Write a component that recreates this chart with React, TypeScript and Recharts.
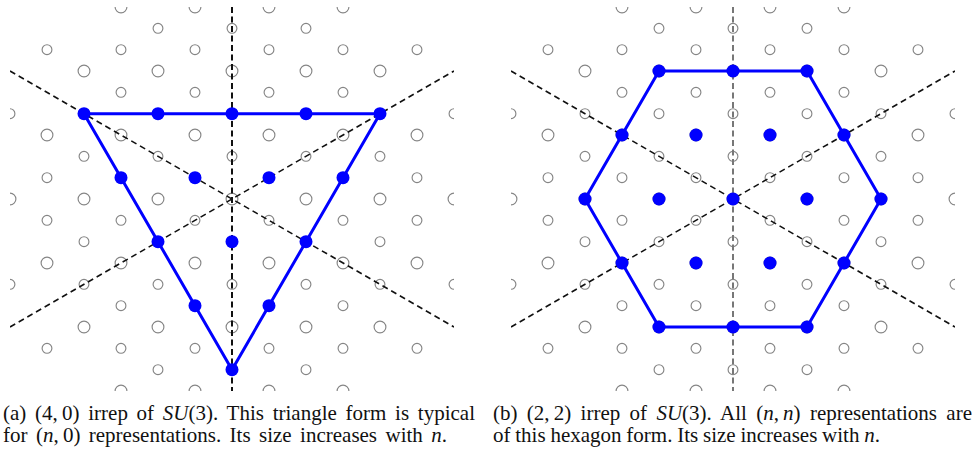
import React, { useLayoutEffect, useRef, useState } from 'react';
import { ScatterChart, Scatter, XAxis, YAxis } from 'recharts';

// weight lattice (hollow circles), one row per level, x in half-root units
const latticeRows = [
  { y: 9, xs: [-3, -1, 1, 3] },
  { y: 8, xs: [-2, 0, 2] },
  { y: 7, xs: [-5, -3, -1, 1, 3, 5] },
  { y: 6, xs: [-4, -2, 0, 2, 4] },
  { y: 5, xs: [-3, -1, 1, 3] },
  { y: 4, xs: [-6, -4, -2, 0, 2, 4, 6] },
  { y: 3, xs: [-5, -3, -1, 1, 3, 5] },
  { y: 2, xs: [-4, -2, 0, 2, 4] },
  { y: 1, xs: [-5, -3, -1, 1, 3, 5] },
  { y: 0, xs: [-6, -4, -2, 0, 2, 4, 6] },
  { y: -1, xs: [-5, -3, -1, 1, 3, 5] },
  { y: -2, xs: [-4, -2, 0, 2, 4] },
  { y: -3, xs: [-5, -3, -1, 1, 3, 5] },
  { y: -4, xs: [-6, -4, -2, 0, 2, 4, 6] },
  { y: -5, xs: [-3, -1, 1, 3] },
  { y: -6, xs: [-4, -2, 0, 2, 4] },
  { y: -7, xs: [-5, -3, -1, 1, 3, 5] },
  { y: -8, xs: [-2, 0, 2] },
  { y: -9, xs: [-3, -1, 1, 3] },
];
// rows of the root lattice, drawn with the larger circles
const bigRows = [9, 6, 3, 0, -3, -6, -9];

// (4,0) irrep weights
const triWeights = [
  { x: -4, y: 4 }, { x: -2, y: 4 }, { x: 0, y: 4 }, { x: 2, y: 4 }, { x: 4, y: 4 },
  { x: -3, y: 1 }, { x: -1, y: 1 }, { x: 1, y: 1 }, { x: 3, y: 1 },
  { x: -2, y: -2 }, { x: 0, y: -2 }, { x: 2, y: -2 },
  { x: -1, y: -5 }, { x: 1, y: -5 },
  { x: 0, y: -8 },
];
const triOutline = [{ x: -4, y: 4 }, { x: 4, y: 4 }, { x: 0, y: -8 }, { x: -4, y: 4 }];

// (2,2) irrep weights
const hexWeights = [
  { x: -2, y: 6 }, { x: 0, y: 6 }, { x: 2, y: 6 },
  { x: -3, y: 3 }, { x: -1, y: 3 }, { x: 1, y: 3 }, { x: 3, y: 3 },
  { x: -4, y: 0 }, { x: -2, y: 0 }, { x: 0, y: 0 }, { x: 2, y: 0 }, { x: 4, y: 0 },
  { x: -3, y: -3 }, { x: -1, y: -3 }, { x: 1, y: -3 }, { x: 3, y: -3 },
  { x: -2, y: -6 }, { x: 0, y: -6 }, { x: 2, y: -6 },
];
const hexOutline = [
  { x: -2, y: 6 }, { x: 2, y: 6 }, { x: 4, y: 0 }, { x: 2, y: -6 },
  { x: -2, y: -6 }, { x: -4, y: 0 }, { x: -2, y: 6 },
];

// Weyl reflection axes
const axisDiagA = [{ x: -6, y: 6 }, { x: 6, y: -6 }];
const axisDiagB = [{ x: -6, y: -6 }, { x: 6, y: 6 }];
const axisVert = [{ x: 0, y: 9 }, { x: 0, y: -9 }];

const bigPts = latticeRows
  .filter(r => bigRows.includes(r.y))
  .flatMap(r => r.xs.map(x => ({ x, y: r.y })));
const smallPts = latticeRows
  .filter(r => !bigRows.includes(r.y))
  .flatMap(r => r.xs.map(x => ({ x, y: r.y })));

const BLUE = '#0000ff';
const none = () => <g />;
const ring = (r: number) => (p: any) => (
  <circle cx={p.cx} cy={p.cy} r={r} fill="none" stroke="#858585" strokeWidth={1.15} />
);
const dot = (p: any) => <circle cx={p.cx} cy={p.cy} r={6.5} fill={BLUE} />;

const Panel = ({ left, weights, outline, vertColor }: any) => (
  <div style={{ position: 'absolute', left, top: 7 }}>
    <ScatterChart width={444} height={384} margin={{ top: 0, right: 0, bottom: 0, left: 0 }}>
      <XAxis type="number" dataKey="x" domain={[-6, 6]} hide allowDataOverflow />
      <YAxis type="number" dataKey="y" domain={[-9, 9]} hide allowDataOverflow />
      <Scatter data={smallPts} shape={ring(4.9)} isAnimationActive={false} />
      <Scatter data={bigPts} shape={ring(5.9)} isAnimationActive={false} />
      <Scatter data={axisDiagA} shape={none} line={{ stroke: '#111', strokeWidth: 1.6, strokeDasharray: '6 4' }} isAnimationActive={false} />
      <Scatter data={axisDiagB} shape={none} line={{ stroke: '#111', strokeWidth: 1.6, strokeDasharray: '6 4' }} isAnimationActive={false} />
      <Scatter data={axisVert} shape={none} line={{ stroke: vertColor, strokeWidth: 2, strokeDasharray: '6 3.5' }} isAnimationActive={false} />
      <Scatter data={outline} shape={none} line={{ stroke: BLUE, strokeWidth: 3 }} isAnimationActive={false} />
      <Scatter data={weights} shape={dot} isAnimationActive={false} />
    </ScatterChart>
  </div>
);

const capFont = { fontFamily: '"Liberation Serif", serif', fontSize: 21, fill: '#111' };

// caption line, word spacing stretched so the line ends where the reference's does
const CapLine = ({ x, y, width, children }: any) => {
  const ref = useRef<SVGTextElement>(null);
  const [ws, setWs] = useState(0);
  useLayoutEffect(() => {
    const el = ref.current;
    if (!el) return;
    const natural = el.getComputedTextLength();
    const spaces = (el.textContent || '').split(' ').length - 1;
    if (spaces > 0) setWs((width - natural) / spaces);
  }, [width]);
  return (
    <text ref={ref} x={x} y={y} style={{ ...capFont, wordSpacing: ws }}>
      {children}
    </text>
  );
};

const I = ({ children }: any) => <tspan fontStyle="italic">{children}</tspan>;

export default function App() {
  return (
    <div style={{ position: 'absolute', left: 0, top: 0, width: 973, height: 452, background: '#fff', overflow: 'hidden' }}>
      <Panel left={10} weights={triWeights} outline={triOutline} vertColor="#111" />
      <Panel left={511} weights={hexWeights} outline={hexOutline} vertColor="#777" />
      <svg width={973} height={452} style={{ position: 'absolute', left: 0, top: 0 }}>
        <CapLine x={3} y={420} width={472}>
          (a) (4,{'\u2009'}0) irrep of <I>SU</I>(3). This triangle form is typical
        </CapLine>
        <CapLine x={3} y={442} width={444}>
          for (<I>n</I>,{'\u2009'}0) representations. Its size increases with <I>n</I>.
        </CapLine>
        <CapLine x={493} y={420} width={479}>
          (b) (2,{'\u2009'}2) irrep of <I>SU</I>(3). All (<I>n</I>,{'\u2009'}<I>n</I>) representations are
        </CapLine>
        <CapLine x={493} y={442} width={387}>
          of this hexagon form. Its size increases with <I>n</I>.
        </CapLine>
      </svg>
    </div>
  );
}
